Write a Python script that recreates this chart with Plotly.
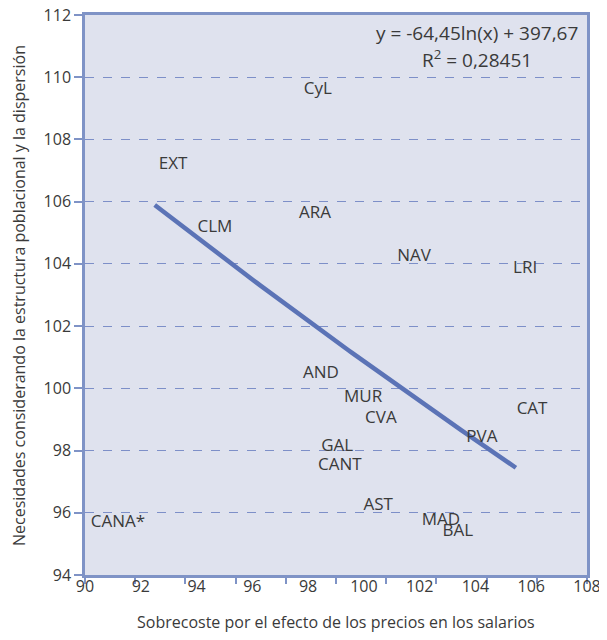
import numpy as np
import plotly.graph_objects as go

# Data
regions = ["CyL", "EXT", "CLM", "ARA", "NAV", "LRI", "AND", "MUR", "CVA",
           "CAT", "PVA", "GAL", "CANT", "AST", "MAD", "BAL", "CANA*"]
sobrecoste = [98.35, 93.16, 94.66, 98.25, 101.80, 105.78, 98.46, 99.97, 100.61,
              106.03, 104.23, 99.04, 99.14, 100.51, 102.76, 103.37, 91.18]
necesidades = [109.59, 107.18, 105.15, 105.60, 104.22, 103.84, 100.46, 99.69, 99.01,
               99.30, 98.40, 98.11, 97.50, 96.22, 95.74, 95.38, 95.67]

# Logarithmic trend line as printed on the chart
trend_a = -64.45
trend_b = 397.67
trend_r2 = 0.28451
trend_x_start = 92.5
trend_x_end = 105.45

x_ticks = [90, 92, 94, 96, 98, 100, 102, 104, 106, 108]
y_ticks = [94, 96, 98, 100, 102, 104, 106, 108, 110, 112]

FONT = "Open Sans"
TXT = "#3a3a3a"
AX = "#7f93c6"

tx = np.linspace(trend_x_start, trend_x_end, 100)
ty = trend_a * np.log(tx) + trend_b

fig = go.Figure()
fig.add_trace(go.Scatter(x=tx, y=ty, mode="lines",
                         line=dict(color="#5b73b6", width=4.5),
                         hoverinfo="skip", showlegend=False))
fig.add_trace(go.Scatter(x=sobrecoste, y=necesidades, mode="text", text=regions,
                         textposition="middle center",
                         textfont=dict(family=FONT, size=17, color=TXT),
                         showlegend=False))
# invisible trace so the label axis is drawn
fig.add_trace(go.Scatter(x=[x_ticks[0], x_ticks[-1]], y=[y_ticks[0], y_ticks[0]],
                         xaxis="x2", mode="markers", marker=dict(opacity=0),
                         hoverinfo="skip", showlegend=False))

eq = f"y = {trend_a:.2f}ln(x) + {trend_b:.2f}".replace(".", ",")
r2 = f"R<sup>2</sup> = {trend_r2:.5f}".replace(".", ",")
fig.add_annotation(text=eq, xref="paper", yref="paper", x=0.781, y=0.968,
                   showarrow=False, xanchor="center", yanchor="middle",
                   font=dict(family=FONT, size=19, color=TXT))
fig.add_annotation(text=r2, xref="paper", yref="paper", x=0.781, y=0.921,
                   showarrow=False, xanchor="center", yanchor="middle",
                   font=dict(family=FONT, size=19, color=TXT))
fig.add_annotation(text="Sobrecoste por el efecto de los precios en los salarios",
                   xref="paper", yref="paper", x=0.5, y=-0.084,
                   showarrow=False, xanchor="center", yanchor="middle",
                   font=dict(family=FONT, size=16, color=TXT))
fig.add_annotation(text="Necesidades considerando la estructura poblacional y la dispersión",
                   xref="paper", yref="paper", x=-0.1315, y=0.5, textangle=-90,
                   showarrow=False, xanchor="center", yanchor="middle",
                   font=dict(family=FONT, size=16, color=TXT))

# the page body adds an 8px margin, so the figure is sized to fit the 607x640 window
fig.update_layout(
    width=599, height=624,
    margin=dict(l=77, r=20, t=7, b=57, autoexpand=False),
    paper_bgcolor="white",
    plot_bgcolor="#dfe2ee",
    font=dict(family=FONT, size=16, color=TXT),
    xaxis=dict(range=[90, 108], tickmode="linear", tick0=90, dtick=1.8,
               ticks="outside", ticklen=6, tickcolor=AX, tickwidth=2,
               showticklabels=False, showgrid=False, zeroline=False, automargin=False,
               showline=True, linecolor=AX, linewidth=2.5, mirror=True),
    xaxis2=dict(range=[90, 108], overlaying="x", anchor="y", side="bottom",
                tickmode="array", tickvals=x_ticks, ticklabeloverflow="allow",
                ticktext=[str(v) for v in x_ticks], ticks="", automargin=False,
                showgrid=False, zeroline=False, showline=False,
                tickfont=dict(family=FONT, size=16, color=TXT)),
    yaxis=dict(range=[94, 112], tickmode="array", tickvals=y_ticks,
               ticktext=[str(v) for v in y_ticks], automargin=False,
               ticklabeloverflow="allow",
               ticks="outside", ticklen=8, tickcolor=AX, tickwidth=1.5,
               showgrid=True, gridcolor="#7d8fc8", griddash="dash", gridwidth=1,
               zeroline=False, showline=True, linecolor=AX, linewidth=2.5, mirror=True,
               tickfont=dict(family=FONT, size=16, color=TXT)),
)

fig.write_html("out.html")
